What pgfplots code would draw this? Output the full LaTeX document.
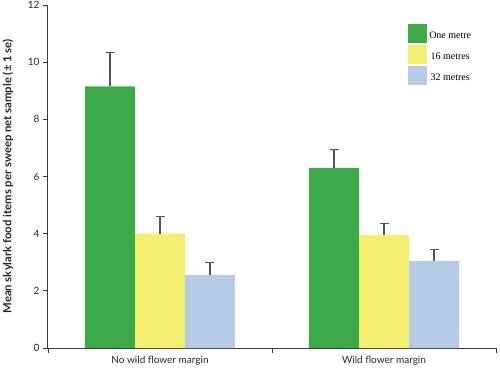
\documentclass[border=0pt]{standalone}
\usepackage{pgfplots}
\pgfplotsset{compat=1.18}
\usepackage{fontspec}
\setmainfont{Lato}
\newfontfamily\legfont{Liberation Serif}
\definecolor{cgreen}{HTML}{3CAA46}
\definecolor{cyellow}{HTML}{F3EF70}
\definecolor{cblue}{HTML}{B5CCE6}
\definecolor{caxis}{HTML}{3A3A3A}
\definecolor{cerr}{HTML}{555555}
\begin{document}
\begin{tikzpicture}
\path[use as bounding box] (-48pt,-22pt) rectangle (452pt,348pt);
\begin{axis}[
  at={(0,0)}, anchor=south west,
  scale only axis, width=448pt, height=343pt,
  xmin=0, xmax=2, ymin=0, ymax=12,
  axis x line*=bottom, axis y line*=left,
  axis line style={caxis, line width=1pt, -},
  ytick={0,2,...,12},
  xtick={0,1,2}, xticklabels={},
  extra x ticks={0.5,1.5},
  extra x tick labels={No wild flower margin, Wild flower margin},
  extra x tick style={major tick length=0pt, tick label style={yshift=-5pt}},
  tick align=outside, major tick length=5pt,
  tick style={caxis, line width=0.8pt},
  /pgf/number format/assume math mode=true,
  tick label style={font=\fontsize{10}{12}\selectfont, text=black!85},
  every axis y label/.style={at={(rel axis cs:0,0.5)}, xshift=-40pt, rotate=90, anchor=center},
  ylabel={\textbf{Mean skylark food items per sweep net sample (± 1 se)}},
  ylabel style={font=\fontsize{11.3}{13}\selectfont, text=black!85},
  ybar, bar width=50pt,
  every axis plot/.append style={bar shift=0pt, draw=none},
  error bars/y dir=plus, error bars/y explicit,
  error bars/error bar style={cerr, line width=1.2pt},
  error bars/error mark options={rotate=90, mark size=4.5pt, cerr, line width=1.2pt},
  legend style={at={(rel axis cs:0.797,0.95)}, anchor=north west, draw=none, fill=none,
    font=\legfont\fontsize{10}{12}\selectfont, row sep=2pt,
    /tikz/every even column/.append style={column sep=1pt}},
  legend image code/.code={\fill[#1] (0pt,-7pt) rectangle (19pt,12pt);},
  clip=false,
]
\addplot[fill=cgreen] coordinates {(0.2768,9.15) +- (0,1.2) (1.2768,6.3) +- (0,0.65)};
\addplot[fill=cyellow] coordinates {(0.5,4.0) +- (0,0.6) (1.5,3.95) +- (0,0.4)};
\addplot[fill=cblue] coordinates {(0.7232,2.55) +- (0,0.45) (1.7232,3.05) +- (0,0.4)};
\legend{One metre, 16 metres, 32 metres}
\end{axis}
\end{tikzpicture}
\end{document}
